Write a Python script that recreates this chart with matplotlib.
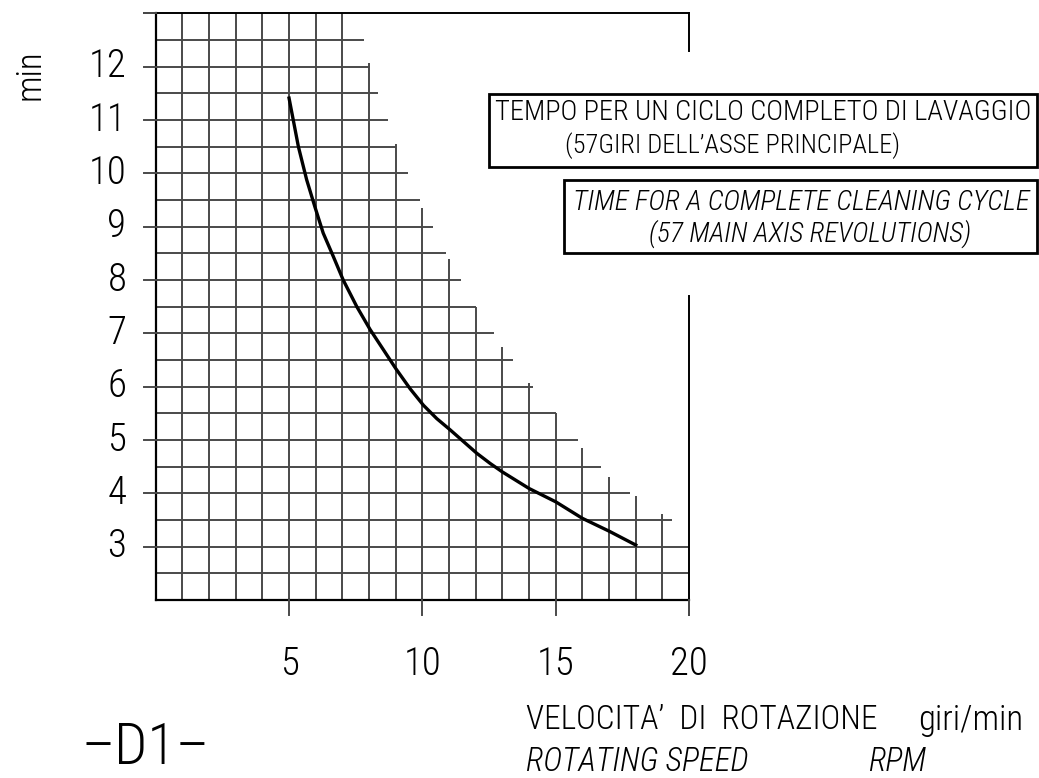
import numpy as np
import matplotlib
matplotlib.use("Agg")
import matplotlib.pyplot as plt
from matplotlib import font_manager

# curve: time for a complete washing cycle vs rotating speed
speed = [5.0, 5.35, 5.66, 5.97, 6.28, 6.66, 7.03, 7.54, 8.04, 8.54, 9.0, 9.54,
         10.04, 10.54, 11.04, 11.54, 12.04, 12.54, 13.0, 14.0, 15.0, 16.0, 17.0, 18.0]
minutes = [11.41, 10.50, 9.88, 9.37, 8.88, 8.44, 8.00, 7.50, 7.07, 6.69, 6.34, 5.96,
           5.65, 5.40, 5.19, 4.97, 4.75, 4.56, 4.40, 4.09, 3.84, 3.53, 3.29, 3.03]

# stepped grid: horizontal rows and where each one stops on the right
grid_rows = [2.5, 3, 3.5, 4, 4.5, 5, 5.5, 6, 6.5, 7, 7.5, 8, 8.5, 9, 9.5, 10,
             10.5, 11, 11.5, 12, 12.5]
row_end = [20, 20, 19.35, 17.8, 16.7, 15.85, 15.0, 14.15, 13.4, 12.7, 12.0, 11.45,
           10.9, 10.4, 9.9, 9.47, 9.0, 8.7, 8.35, 8.05, 7.8]
# vertical columns and how high each one goes
grid_cols = list(range(1, 20))
col_top = [13, 13, 13, 13, 13, 13, 13, 12.07, 10.55, 9.35, 8.4, 7.5, 6.75, 6.07,
           5.5, 4.85, 4.3, 3.94, 3.62]

x_ticks = [5, 10, 15, 20]
y_ticks = [3, 4, 5, 6, 7, 8, 9, 10, 11, 12, 13]
y_labels = ["3", "4", "5", "6", "7", "8", "9", "10", "11", "12", ""]

W, H = 1039, 778

# pick a narrow font if there is one
names = {f.name for f in font_manager.fontManager.ttflist}
font = "DejaVu Sans"
for cand in ["Roboto Condensed", "Liberation Sans Narrow", "DejaVu Sans Condensed",
             "Open Sans Condensed", "Liberation Sans"]:
    if cand in names:
        font = cand
        break
plt.rcParams["font.family"] = font
plt.rcParams["font.weight"] = "light"

fig = plt.figure(figsize=(W / 100, H / 100), dpi=100)
ax = fig.add_axes([0, 0, 1, 1])
# axes limits chosen so the grid sits where it does in the drawing
x0, ux = 155.7, 26.67
y7, uy = 333.3, 53.33
ax.set_xlim(-x0 / ux, (W - x0) / ux)
ax.set_ylim(7 - (H - y7) / uy, 7 + y7 / uy)
ax.axis("off")

grid_c = "#4a4a4a"
grid_lw = 1.4

for y, xe in zip(grid_rows, row_end):
    ax.plot([0, xe], [y, y], color=grid_c, lw=grid_lw, solid_capstyle="butt")
for x, yt in zip(grid_cols, col_top):
    ax.plot([x, x], [2, yt], color=grid_c, lw=grid_lw, solid_capstyle="butt")

# frame
ax.plot([0, 0], [2, 13], color="black", lw=1.6)
ax.plot([0, 20], [2, 2], color="black", lw=1.6)
ax.plot([-0.45, 20], [13, 13], color="black", lw=1.4)
ax.plot([20, 20], [1.72, 7.7], color="black", lw=1.4)
ax.plot([20, 20], [12.3, 13], color="black", lw=1.4)

# ticks
for y in y_ticks:
    ax.plot([-0.45, 0], [y, y], color=grid_c, lw=grid_lw)
for x in x_ticks:
    ax.plot([x, x], [1.72, 2], color=grid_c, lw=grid_lw)

for y, lab in zip(y_ticks, y_labels):
    ax.text(-1.1, y, lab, fontsize=28, ha="right", va="center")
for x in x_ticks:
    ax.text(x, 0.8, str(x), fontsize=28, ha="center", va="center")

ax.plot(speed, minutes, color="black", lw=2.4)

def fx(px):
    return px / W

def fy(py):
    return 1 - py / H

fig.text(fx(30), fy(75), "min", fontsize=25, rotation=90, ha="center", va="center")

# text boxes
for (l, t, b) in [(489, 94, 167), (564, 180, 253)]:
    fig.add_artist(plt.Rectangle((fx(l), fy(b)), fx(1037) - fx(l), fy(t) - fy(b),
                                 fill=False, ec="black", lw=2, transform=fig.transFigure))

fig.text(fx(763), fy(112), "TEMPO PER UN CICLO COMPLETO DI LAVAGGIO", fontsize=20.5,
         ha="center", va="center")
fig.text(fx(733), fy(146), "(57GIRI DELL\u2019ASSE PRINCIPALE)", fontsize=19,
         ha="center", va="center")
fig.text(fx(801), fy(202), "TIME FOR A COMPLETE CLEANING CYCLE", fontsize=20.5,
         style="italic", ha="center", va="center")
fig.text(fx(810), fy(234), "(57 MAIN AXIS REVOLUTIONS)", fontsize=20,
         style="italic", ha="center", va="center")

fig.text(fx(526), fy(720), "VELOCITA\u2019  DI  ROTAZIONE", fontsize=24, ha="left", va="center")
fig.text(fx(918), fy(720), "giri/min", fontsize=25, ha="left", va="center")
fig.text(fx(526), fy(762), "ROTATING SPEED", fontsize=23.5, style="italic", ha="left", va="center")
fig.text(fx(868), fy(762), "RPM", fontsize=23.5, style="italic", ha="left", va="center")

fig.text(fx(146), fy(748), "\u2013D1\u2013", fontsize=42, ha="center", va="center")

fig.savefig("out.png", dpi=100, facecolor="white")
